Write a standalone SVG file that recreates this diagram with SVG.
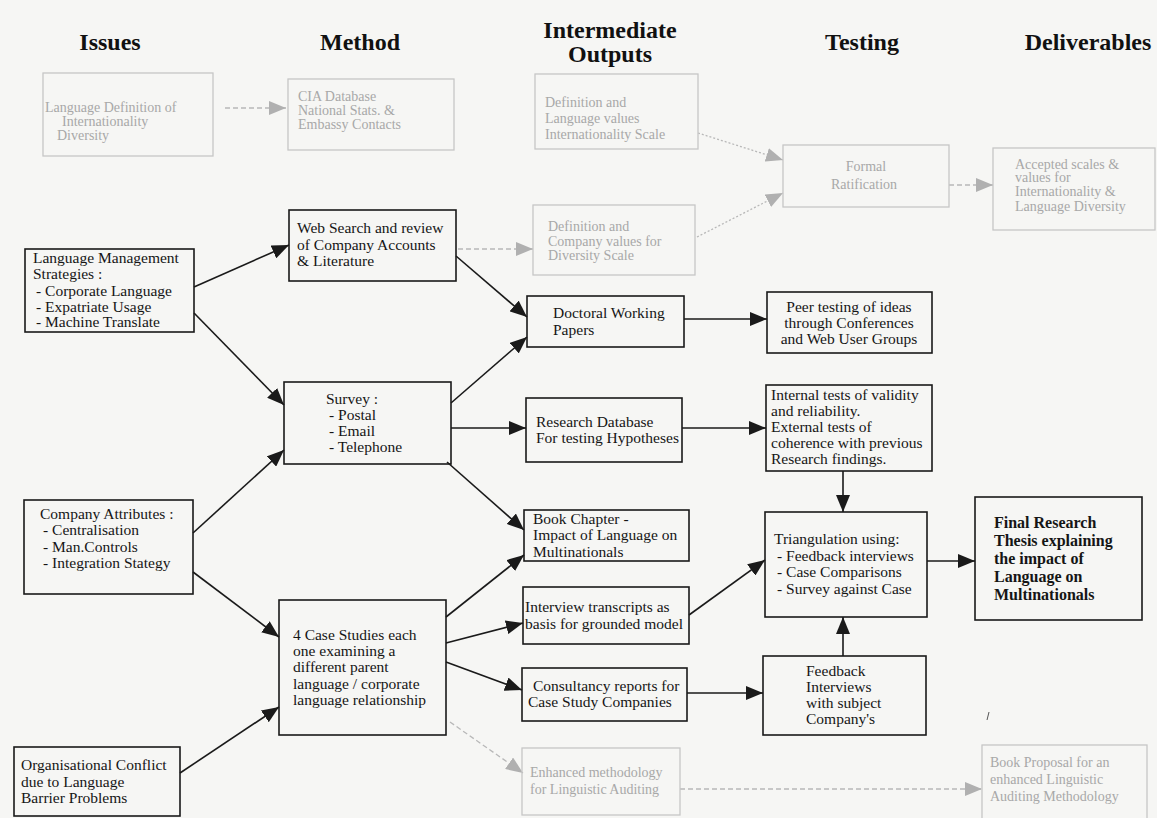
<svg xmlns="http://www.w3.org/2000/svg" width="1157" height="818" viewBox="0 0 1157 818">
  <style>
    .box { fill: none; stroke: #1a1a1a; stroke-width: 1.6; }
    .fbox { fill: none; stroke: #c6c6c6; stroke-width: 1.3; }
    .t { font-family: "Liberation Serif", "Times New Roman", serif; font-size: 15.5px; fill: #151515; }
    .ft { font-family: "Liberation Serif", "Times New Roman", serif; font-size: 14px; fill: #a8a8a8; }
    .h { font-family: "Liberation Serif", "Times New Roman", serif; font-size: 24px; font-weight: bold; fill: #111; text-anchor: middle; }
    .b { font-weight: bold; font-size: 16px; }
    .mid { text-anchor: middle; }
    .c { fill: none; stroke: #1a1a1a; stroke-width: 1.6; marker-end: url(#ah); }
    .fc { fill: none; stroke: #b8b8b8; stroke-width: 1.3; stroke-dasharray: 5 3; marker-end: url(#fah); }
    .fd { fill: none; stroke: #b8b8b8; stroke-width: 1.3; stroke-dasharray: 2 2; marker-end: url(#fah); }
  </style>
  <defs>
    <marker id="ah" markerUnits="userSpaceOnUse" markerWidth="18" markerHeight="14" refX="17" refY="7" orient="auto">
      <path d="M0,0 L17,7 L0,14 z" fill="#1a1a1a"/>
    </marker>
    <marker id="fah" markerUnits="userSpaceOnUse" markerWidth="18" markerHeight="14" refX="17" refY="7" orient="auto">
      <path d="M0,0 L17,7 L0,14 z" fill="#b0b0b0"/>
    </marker>
  </defs>

  <rect width="1157" height="818" fill="#f6f6f4"/>

  <!-- column headings -->
  <g id="headings">
    <text class="h" x="110" y="50">Issues</text>
    <text class="h" x="360" y="50">Method</text>
    <text class="h" x="610" y="38">Intermediate</text>
    <text class="h" x="610" y="62">Outputs</text>
    <text class="h" x="862" y="50">Testing</text>
    <text class="h" x="1088" y="50">Deliverables</text>
  </g>

  <!-- connectors -->
  <g id="connectors">
    <!-- faded route -->
    <line class="fc" x1="225" y1="108" x2="286" y2="108"/>
    <line class="fc" x1="458" y1="249" x2="533" y2="249"/>
    <line class="fd" x1="698" y1="133" x2="783" y2="160"/>
    <line class="fd" x1="697" y1="237" x2="783" y2="193"/>
    <line class="fc" x1="949" y1="185" x2="993" y2="185"/>
    <line class="fc" x1="450" y1="722" x2="523" y2="773"/>
    <line class="fc" x1="680" y1="789" x2="982" y2="789"/>
    <!-- main route -->
    <line class="c" x1="194" y1="287" x2="289" y2="245"/>
    <line class="c" x1="194" y1="313" x2="284" y2="405"/>
    <line class="c" x1="193" y1="533" x2="284" y2="450"/>
    <line class="c" x1="193" y1="572" x2="279" y2="637"/>
    <line class="c" x1="180" y1="773" x2="279" y2="707"/>
    <line class="c" x1="456" y1="256" x2="527" y2="317"/>
    <line class="c" x1="451" y1="403" x2="527" y2="337"/>
    <line class="c" x1="451" y1="428" x2="526" y2="428"/>
    <line class="c" x1="447" y1="462" x2="524" y2="530"/>
    <line class="c" x1="446" y1="617" x2="524" y2="555"/>
    <line class="c" x1="446" y1="643" x2="523" y2="623"/>
    <line class="c" x1="446" y1="662" x2="522" y2="690"/>
    <line class="c" x1="684" y1="319" x2="767" y2="319"/>
    <line class="c" x1="682" y1="428" x2="766" y2="428"/>
    <line class="c" x1="843" y1="471" x2="843" y2="512"/>
    <line class="c" x1="689" y1="615" x2="765" y2="560"/>
    <line class="c" x1="687" y1="693" x2="763" y2="693"/>
    <line class="c" x1="843" y1="656" x2="843" y2="617"/>
    <line class="c" x1="927" y1="561" x2="975" y2="561"/>
  </g>

  <!-- Issues -->
  <g id="issue-language-definition">
    <rect class="fbox" x="43" y="73" width="170" height="83"/>
    <text class="ft" x="45" y="112">Language Definition of</text>
    <text class="ft" x="62" y="126">Internationality</text>
    <text class="ft" x="57" y="140">Diversity</text>
  </g>
  <g id="issue-language-management">
    <rect class="box" x="25" y="249" width="169" height="83"/>
    <text class="t" x="33" y="263">Language Management</text>
    <text class="t" x="33" y="279">Strategies :</text>
    <text class="t" x="36" y="296">- Corporate Language</text>
    <text class="t" x="36" y="312">- Expatriate Usage</text>
    <text class="t" x="36" y="327">- Machine Translate</text>
  </g>
  <g id="issue-company-attributes">
    <rect class="box" x="24" y="500" width="169" height="94"/>
    <text class="t" x="40" y="519">Company Attributes :</text>
    <text class="t" x="43" y="535">- Centralisation</text>
    <text class="t" x="43" y="552">- Man.Controls</text>
    <text class="t" x="43" y="568">- Integration Stategy</text>
  </g>
  <g id="issue-organisational-conflict">
    <rect class="box" x="14" y="747" width="166" height="69"/>
    <text class="t" x="21" y="770">Organisational Conflict</text>
    <text class="t" x="21" y="787">due to Language</text>
    <text class="t" x="21" y="803">Barrier Problems</text>
  </g>

  <!-- Method -->
  <g id="method-cia">
    <rect class="fbox" x="288" y="79" width="166" height="71"/>
    <text class="ft" x="298" y="101">CIA Database</text>
    <text class="ft" x="298" y="115">National Stats. &amp;</text>
    <text class="ft" x="298" y="129">Embassy Contacts</text>
  </g>
  <g id="method-web-search">
    <rect class="box" x="289" y="210" width="167" height="71"/>
    <text class="t" x="297" y="233">Web Search and review</text>
    <text class="t" x="297" y="250">of Company Accounts</text>
    <text class="t" x="297" y="266">&amp; Literature</text>
  </g>
  <g id="method-survey">
    <rect class="box" x="284" y="382" width="167" height="82"/>
    <text class="t" x="326" y="404">Survey :</text>
    <text class="t" x="329" y="420">- Postal</text>
    <text class="t" x="329" y="436">- Email</text>
    <text class="t" x="329" y="452">- Telephone</text>
  </g>
  <g id="method-case-studies">
    <rect class="box" x="279" y="600" width="167" height="135"/>
    <text class="t" x="293" y="640">4 Case Studies each</text>
    <text class="t" x="293" y="656">one examining a</text>
    <text class="t" x="293" y="672">different parent</text>
    <text class="t" x="293" y="689">language / corporate</text>
    <text class="t" x="293" y="705">language relationship</text>
  </g>

  <!-- Intermediate outputs -->
  <g id="output-language-values">
    <rect class="fbox" x="535" y="74" width="163" height="75"/>
    <text class="ft" x="545" y="107">Definition and</text>
    <text class="ft" x="545" y="123">Language values</text>
    <text class="ft" x="545" y="139">Internationality Scale</text>
  </g>
  <g id="output-company-values">
    <rect class="fbox" x="533" y="205" width="162" height="70"/>
    <text class="ft" x="548" y="231">Definition and</text>
    <text class="ft" x="548" y="246">Company values for</text>
    <text class="ft" x="548" y="260">Diversity Scale</text>
  </g>
  <g id="output-working-papers">
    <rect class="box" x="527" y="296" width="157" height="51"/>
    <text class="t" x="553" y="318">Doctoral Working</text>
    <text class="t" x="553" y="335">Papers</text>
  </g>
  <g id="output-research-database">
    <rect class="box" x="526" y="398" width="156" height="64"/>
    <text class="t" x="536" y="427">Research Database</text>
    <text class="t" x="536" y="443">For testing Hypotheses</text>
  </g>
  <g id="output-book-chapter">
    <rect class="box" x="524" y="510" width="165" height="51"/>
    <text class="t" x="533" y="524">Book Chapter -</text>
    <text class="t" x="533" y="540">Impact of Language on</text>
    <text class="t" x="533" y="557">Multinationals</text>
  </g>
  <g id="output-interview-transcripts">
    <rect class="box" x="523" y="587" width="166" height="57"/>
    <text class="t" x="525" y="612">Interview transcripts as</text>
    <text class="t" x="525" y="629">basis for grounded model</text>
  </g>
  <g id="output-consultancy-reports">
    <rect class="box" x="522" y="668" width="165" height="53"/>
    <text class="t" x="533" y="691">Consultancy reports for</text>
    <text class="t" x="528" y="707">Case Study Companies</text>
  </g>
  <g id="output-enhanced-methodology">
    <rect class="fbox" x="522" y="748" width="158" height="67"/>
    <text class="ft" x="530" y="777">Enhanced methodology</text>
    <text class="ft" x="530" y="794">for Linguistic Auditing</text>
  </g>

  <!-- Testing -->
  <g id="test-formal-ratification">
    <rect class="fbox" x="783" y="145" width="166" height="62"/>
    <text class="ft mid" x="866" y="171">Formal</text>
    <text class="ft mid" x="864" y="189">Ratification</text>
  </g>
  <g id="test-peer-testing">
    <rect class="box" x="767" y="292" width="165" height="61"/>
    <text class="t mid" x="849" y="312">Peer testing of ideas</text>
    <text class="t mid" x="849" y="328">through Conferences</text>
    <text class="t mid" x="849" y="344">and Web User Groups</text>
  </g>
  <g id="test-validity">
    <rect class="box" x="766" y="385" width="166" height="86"/>
    <text class="t" x="771" y="400">Internal tests of validity</text>
    <text class="t" x="771" y="416">and reliability.</text>
    <text class="t" x="771" y="432">External tests of</text>
    <text class="t" x="771" y="448">coherence with previous</text>
    <text class="t" x="771" y="464">Research findings.</text>
  </g>
  <g id="test-triangulation">
    <rect class="box" x="765" y="512" width="162" height="105"/>
    <text class="t" x="774" y="544">Triangulation using:</text>
    <text class="t" x="777" y="561">- Feedback interviews</text>
    <text class="t" x="777" y="577">- Case Comparisons</text>
    <text class="t" x="777" y="594">- Survey against Case</text>
  </g>
  <g id="test-feedback-interviews">
    <rect class="box" x="763" y="656" width="163" height="79"/>
    <text class="t" x="806" y="676">Feedback</text>
    <text class="t" x="806" y="692">Interviews</text>
    <text class="t" x="806" y="708">with subject</text>
    <text class="t" x="806" y="724">Company's</text>
  </g>

  <!-- Deliverables -->
  <g id="deliverable-accepted-scales">
    <rect class="fbox" x="993" y="148" width="162" height="82"/>
    <text class="ft" x="1015" y="169">Accepted scales &amp;</text>
    <text class="ft" x="1015" y="182">values for</text>
    <text class="ft" x="1015" y="196">Internationality &amp;</text>
    <text class="ft" x="1015" y="211">Language Diversity</text>
  </g>
  <g id="deliverable-final-thesis">
    <rect class="box" x="975" y="497" width="167" height="123"/>
    <text class="t b" x="994" y="528">Final Research</text>
    <text class="t b" x="994" y="546">Thesis explaining</text>
    <text class="t b" x="994" y="564">the impact of</text>
    <text class="t b" x="994" y="582">Language on</text>
    <text class="t b" x="994" y="600">Multinationals</text>
  </g>
  <g id="deliverable-book-proposal">
    <rect class="fbox" x="982" y="745" width="165" height="80"/>
    <text class="ft" x="990" y="767">Book Proposal for an</text>
    <text class="ft" x="990" y="784">enhanced Linguistic</text>
    <text class="ft" x="990" y="801">Auditing Methodology</text>
  </g>

  <!-- stray pen mark -->
  <path d="M989,712 L987,720" stroke="#555" stroke-width="1"/>
</svg>
